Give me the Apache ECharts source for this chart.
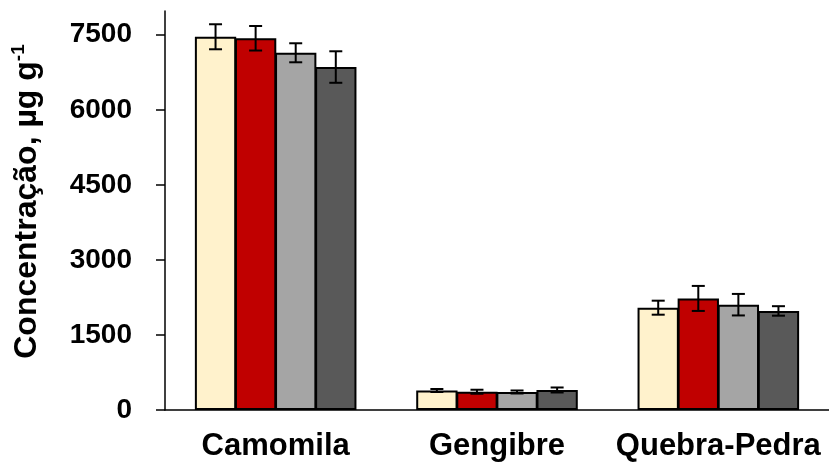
<!DOCTYPE html>
<html>
<head>
<meta charset="utf-8">
<script src="https://cdn.jsdelivr.net/npm/echarts@6/dist/echarts.min.js"></script>
<style>
  html, body { margin: 0; padding: 0; background: #fff; }
  #chart { width: 829px; height: 467px; }
</style>
</head>
<body>
<div id="chart"></div>
<script>
// Plant samples on the category axis
const categories = ['Camomila', 'Gengibre', 'Quebra-Pedra'];

// Mean concentration (µg g-1) for each of the four treatments
const serie1 = [7460, 390, 2045];
const serie2 = [7430, 365, 2230];
const serie3 = [7140, 360, 2105];
const serie4 = [6855, 400, 1980];

// Standard deviations (error bars)
const erro1 = [250, 30, 140];
const erro2 = [245, 40, 250];
const erro3 = [190, 30, 215];
const erro4 = [315, 50, 95];

// Y-axis tick values
const yTicks = [0, 1500, 3000, 4500, 6000, 7500];

const seriesNames = ['Série 1', 'Série 2', 'Série 3', 'Série 4'];
const values = [serie1, serie2, serie3, serie4];
const errors = [erro1, erro2, erro3, erro4];
const colors = ['#FFF2CC', '#C00000', '#A5A5A5', '#595959'];

const FONT = '"Liberation Sans", Arial, sans-serif';
const CAT_GAP = 0.27;   // gap between category groups (fraction of band)
const BAR_GAP = -0.03;  // slight overlap so neighbouring borders merge
const NBARS = 4;

const barSeries = values.map((vals, k) => ({
  name: seriesNames[k],
  type: 'bar',
  data: vals,
  barGap: (BAR_GAP * 100) + '%',
  barCategoryGap: (CAT_GAP * 100) + '%',
  itemStyle: { color: colors[k], borderColor: '#000', borderWidth: 2 },
  z: 2
}));

// Error bars centred on each bar, using the same layout rule as the bar series
const errorSeries = errors.map((errs, k) => ({
  type: 'custom',
  name: seriesNames[k] + ' erro',
  data: errs.map((e, i) => [i, values[k][i], e]),
  encode: { x: 0, y: 1 },
  z: 5,
  renderItem: function (params, api) {
    const i = api.value(0);
    const v = api.value(1);
    const e = api.value(2);
    const band = api.size([1, 0])[0];
    const total = band * (1 - CAT_GAP);
    const barW = total / (NBARS + (NBARS - 1) * BAR_GAP);
    const step = barW * (1 + BAR_GAP);
    const cx = api.coord([i, v])[0] + (k - (NBARS - 1) / 2) * step;
    const yHi = api.coord([i, v + e])[1];
    const yLo = api.coord([i, v - e])[1];
    const cap = 6.5;
    const st = { stroke: '#000', lineWidth: 2 };
    return {
      type: 'group',
      children: [
        { type: 'line', shape: { x1: cx, y1: yHi, x2: cx, y2: yLo }, style: st },
        { type: 'line', shape: { x1: cx - cap, y1: yHi, x2: cx + cap, y2: yHi }, style: st },
        { type: 'line', shape: { x1: cx - cap, y1: yLo, x2: cx + cap, y2: yLo }, style: st }
      ]
    };
  }
}));

const chart = echarts.init(document.getElementById('chart'), null, { renderer: 'canvas' });
chart.setOption({
  animation: false,
  backgroundColor: '#fff',
  grid: {
    left: 165, right: 0, top: 11, bottom: 57,
    containLabel: false, outerBoundsMode: 'none'
  },
  xAxis: {
    type: 'category',
    data: categories,
    axisLine: { lineStyle: { color: '#000', width: 1.5 } },
    axisTick: { show: false },
    axisLabel: {
      interval: 0, hideOverlap: false,
      color: '#000', fontFamily: FONT, fontWeight: 'bold', fontSize: 31, margin: 21
    },
    splitLine: { show: false }
  },
  yAxis: {
    type: 'value',
    min: 0,
    max: 7975,
    name: '{a|Concentração, µg g}{s|-1}',
    nameLocation: 'middle',
    nameGap: 120,
    nameRotate: 90,
    nameTextStyle: {
      padding: [0, 0, 0, 18],
      rich: {
        a: { fontFamily: FONT, fontWeight: 'bold', fontSize: 32, color: '#000', lineHeight: 36 },
        s: { fontFamily: FONT, fontWeight: 'bold', fontSize: 19, color: '#000', verticalAlign: 'top', lineHeight: 36 }
      }
    },
    axisLine: { show: true, lineStyle: { color: '#000', width: 1.5 } },
    axisTick: { show: true, length: 9, lineStyle: { color: '#000', width: 1.5 }, customValues: yTicks },
    axisLabel: {
      color: '#000', fontFamily: FONT, fontWeight: 'bold', fontSize: 28, margin: 33,
      customValues: yTicks,
      formatter: (v) => String(v)
    },
    splitLine: { show: false }
  },
  series: [...barSeries, ...errorSeries]
});
</script>
</body>
</html>
